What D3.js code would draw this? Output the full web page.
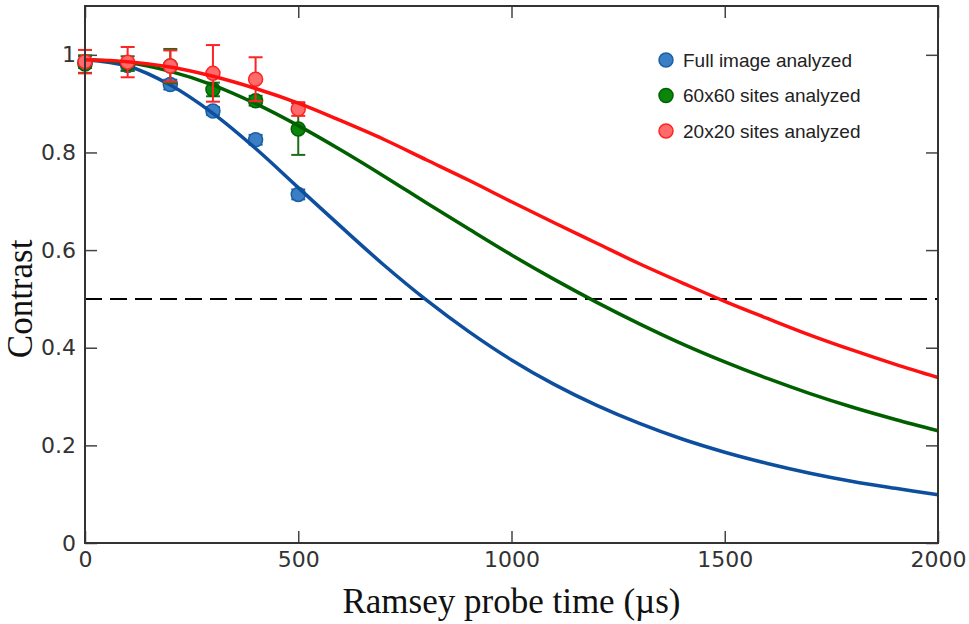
<!DOCTYPE html>
<html>
<head>
<meta charset="utf-8">
<script src="https://cdn.jsdelivr.net/npm/d3@7"></script>
<style>
  html, body { margin: 0; padding: 0; background: #fff; }
  svg { display: block; }
</style>
</head>
<body>
<svg id="chart" width="969" height="624"></svg>
<script>
// measured points (time in µs)
const pointTimes = [0, 100, 200, 300, 400, 500];
const fullImage = [0.985, 0.978, 0.939, 0.885, 0.826, 0.714];
const fullImageErr = [0.012, 0.01, 0.01, 0.008, 0.01, 0.01];
const sites60 = [0.981, 0.982, 0.977, 0.929, 0.906, 0.848];
const sites60Err = [0.018, 0.015, 0.035, 0.014, 0.01, 0.053];
const sites20 = [0.986, 0.985, 0.977, 0.962, 0.950, 0.889];
const sites20Err = [0.024, 0.031, 0.032, 0.058, 0.045, 0.014];

const fitTimes = [0, 100, 200, 300, 400, 500, 600, 700, 800, 900, 1000,
  1100, 1200, 1300, 1400, 1500, 1600, 1700, 1800, 1900, 2000];
const fitFull = [0.99, 0.977, 0.938, 0.880, 0.808, 0.728, 0.648, 0.570, 0.498, 0.433, 0.375,
  0.325, 0.282, 0.245, 0.213, 0.186, 0.163, 0.143, 0.126, 0.112, 0.099];
const fit60 = [0.99, 0.984, 0.966, 0.938, 0.900, 0.855, 0.805, 0.752, 0.697, 0.643, 0.590,
  0.540, 0.493, 0.449, 0.408, 0.371, 0.337, 0.306, 0.278, 0.253, 0.230];
const fit20 = [0.99, 0.986, 0.975, 0.956, 0.931, 0.901, 0.865, 0.827, 0.785, 0.743, 0.699,
  0.656, 0.614, 0.572, 0.533, 0.495, 0.460, 0.426, 0.395, 0.366, 0.339];

const xTicks = [0, 500, 1000, 1500, 2000];
const yTicks = [0, 0.2, 0.4, 0.6, 0.8, 1];
const threshold = 0.5;

const series = [
  { name: 'Full image analyzed', values: fullImage, err: fullImageErr, fit: fitFull,
    line: '#0d4f9e', fill: '#3a7fc4', edge: '#1b5ea6', bar: '#1b5ea6' },
  { name: '60x60 sites analyzed', values: sites60, err: sites60Err, fit: fit60,
    line: '#006000', fill: '#0a870a', edge: '#006000', bar: '#1a6e1a' },
  { name: '20x20 sites analyzed', values: sites20, err: sites20Err, fit: fit20,
    line: '#ff1010', fill: '#ff6a6a', edge: '#ff2424', bar: '#ff2424' },
];

const margin = { top: 6, right: 31, bottom: 81, left: 85 };
const svg = d3.select('#chart');
const width = 969 - margin.left - margin.right;
const height = 624 - margin.top - margin.bottom;

const g = svg.append('g')
  .attr('transform', `translate(${margin.left}, ${margin.top})`);

const x = d3.scaleLinear().domain([0, 2000]).range([0, width]);
const y = d3.scaleLinear().domain([0, 1.1]).range([height, 0]);

const tickFont = '"DejaVu Sans", sans-serif';
const fmt = d => (d === 0 || d === 1) ? String(d) : d.toFixed(1);

// axes with inward ticks on all four sides
function styleAxis(sel) {
  sel.select('.domain').remove();
  sel.selectAll('.tick line').attr('stroke', '#444').attr('stroke-width', 1.5);
  sel.selectAll('.tick text')
    .attr('fill', '#333')
    .style('font-family', tickFont)
    .style('font-size', '22px');
}

g.append('g')
  .attr('transform', `translate(0, ${height})`)
  .call(d3.axisBottom(x).tickValues(xTicks).tickSizeInner(-12).tickSizeOuter(0).tickPadding(8)
    .tickFormat(d3.format('d')))
  .call(styleAxis);

g.append('g')
  .call(d3.axisTop(x).tickValues(xTicks).tickSizeInner(-12).tickSizeOuter(0).tickFormat(''))
  .call(styleAxis);

g.append('g')
  .call(d3.axisLeft(y).tickValues(yTicks).tickSizeInner(-12).tickSizeOuter(0).tickPadding(9).tickFormat(fmt))
  .call(styleAxis);

g.append('g')
  .attr('transform', `translate(${width}, 0)`)
  .call(d3.axisRight(y).tickValues(yTicks).tickSizeInner(-12).tickSizeOuter(0).tickFormat(''))
  .call(styleAxis);

// threshold line
g.append('line')
  .attr('x1', x(0)).attr('x2', x(2000))
  .attr('y1', y(threshold)).attr('y2', y(threshold))
  .attr('stroke', '#000')
  .attr('stroke-width', 2)
  .attr('stroke-dasharray', '17,8');

const line = d3.line()
  .x((d, i) => x(fitTimes[i]))
  .y(d => y(d))
  .curve(d3.curveCatmullRom);

series.forEach((s) => {
  const pts = pointTimes.map((t, i) => ({ t, v: s.values[i], e: s.err[i] }));
  const grp = g.append('g');

  // error bars
  const eb = grp.selectAll('.eb').data(pts).enter().append('g')
    .attr('stroke', s.bar).attr('stroke-width', 2);
  eb.append('line')
    .attr('x1', d => x(d.t)).attr('x2', d => x(d.t))
    .attr('y1', d => y(d.v - d.e)).attr('y2', d => y(d.v + d.e));
  eb.append('line')
    .attr('x1', d => x(d.t) - 7).attr('x2', d => x(d.t) + 7)
    .attr('y1', d => y(d.v - d.e)).attr('y2', d => y(d.v - d.e));
  eb.append('line')
    .attr('x1', d => x(d.t) - 7).attr('x2', d => x(d.t) + 7)
    .attr('y1', d => y(d.v + d.e)).attr('y2', d => y(d.v + d.e));

  // markers
  grp.selectAll('circle').data(pts).enter().append('circle')
    .attr('cx', d => x(d.t))
    .attr('cy', d => y(d.v))
    .attr('r', 7)
    .attr('fill', s.fill)
    .attr('stroke', s.edge)
    .attr('stroke-width', 1.5);

  // fit
  grp.append('path')
    .datum(s.fit)
    .attr('d', line)
    .attr('fill', 'none')
    .attr('stroke', s.line)
    .attr('stroke-width', 3.5);
});

// frame
g.append('rect')
  .attr('width', width).attr('height', height)
  .attr('fill', 'none')
  .attr('stroke', '#333')
  .attr('stroke-width', 2);

// legend
const legend = g.append('g')
  .attr('transform', `translate(${666 - margin.left}, ${60 - margin.top})`);
series.forEach((s, i) => {
  const row = legend.append('g').attr('transform', `translate(0, ${i * 35.5})`);
  row.append('circle')
    .attr('r', 7)
    .attr('fill', s.fill)
    .attr('stroke', s.edge)
    .attr('stroke-width', 1.5);
  row.append('text')
    .attr('x', 17)
    .attr('dy', '0.35em')
    .attr('fill', '#222')
    .style('font-family', '"Liberation Sans", Arial, sans-serif')
    .style('font-size', '19px')
    .text(s.name);
});

// axis titles
svg.append('text')
  .attr('x', margin.left + width / 2)
  .attr('y', 613)
  .attr('text-anchor', 'middle')
  .attr('fill', '#111')
  .style('font-family', '"Liberation Serif", "Times New Roman", serif')
  .style('font-size', '35px')
  .text('Ramsey probe time (µs)');

svg.append('text')
  .attr('transform', `translate(32, ${margin.top + y(0.5)}) rotate(-90)`)
  .attr('text-anchor', 'middle')
  .attr('fill', '#111')
  .style('font-family', '"Liberation Serif", "Times New Roman", serif')
  .style('font-size', '35px')
  .text('Contrast');
</script>
</body>
</html>
